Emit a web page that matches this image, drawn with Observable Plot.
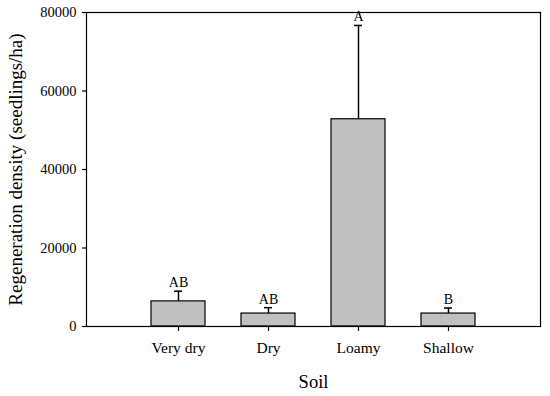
<!DOCTYPE html>
<html>
<head>
<meta charset="utf-8">
<script src="https://cdn.jsdelivr.net/npm/d3@7"></script>
<script src="https://cdn.jsdelivr.net/npm/@observablehq/plot@0.6"></script>
<style>
  html, body { margin: 0; padding: 0; background: #fff; }
  #chart svg { display: block; }
  #chart svg, #chart svg g, #chart svg text {
    font-family: 'Liberation Serif', serif !important;
  }
</style>
</head>
<body>
<div id="chart"></div>
<script>
// Data
const soils = ["Very dry", "Dry", "Loamy", "Shallow"];
const means = [6400, 3300, 52800, 3300];
const upper = [9000, 4800, 76700, 4700];
const letters = ["AB", "AB", "A", "B"];
const yTicks = [0, 20000, 40000, 60000, 80000];

const data = soils.map((s, i) => ({soil: s, mean: means[i], upper: upper[i], letter: letters[i]}));

const FONT = "'Liberation Serif', serif";

const chart = Plot.plot({
  width: 550,
  height: 396,
  marginLeft: 86,
  marginRight: 10,
  marginTop: 12,
  marginBottom: 70,
  style: {fontFamily: FONT, background: "#fff", color: "#000"},
  x: {domain: soils, paddingInner: 0.4, paddingOuter: 0.7, label: null},
  y: {domain: [0, 80000], label: null},
  marks: [
    Plot.barY(data, {x: "soil", y: "mean", fill: "#c0c0c0", stroke: "#000", strokeWidth: 1.2}),
    Plot.ruleX(data, {x: "soil", y1: "mean", y2: "upper", stroke: "#000", strokeWidth: 1.5}),
    Plot.tickY(data, {x: "soil", y: "upper", insetLeft: 23, insetRight: 23, stroke: "#000", strokeWidth: 1.5}),
    Plot.text(data, {x: "soil", y: "upper", text: "letter", lineAnchor: "bottom", dy: -4, fontSize: 14, fontFamily: FONT, fill: "#000"}),
    Plot.frame({stroke: "#000", strokeWidth: 1.2}),
    Plot.axisY({ticks: yTicks, tickFormat: d => String(d), tickSize: 4, tickPadding: 6, fontSize: 14.5, fontFamily: FONT, label: null, stroke: "#000", strokeWidth: 1.2}),
    Plot.axisX({tickSize: 5, tickPadding: 10, fontSize: 15.5, fontFamily: FONT, label: null, stroke: "#000", strokeWidth: 1.2}),
    Plot.text(["Soil"], {text: d => d, frameAnchor: "bottom", lineAnchor: "middle", textAnchor: "middle", dy: 56, fontSize: 18.5, fontFamily: FONT, fill: "#000"}),
    Plot.text(["Regeneration density (seedlings/ha)"], {text: d => d, frameAnchor: "left", textAnchor: "middle", lineAnchor: "middle", rotate: -90, dx: -71, fontSize: 19, fontFamily: FONT, fill: "#000"})
  ]
});
document.getElementById("chart").appendChild(chart);
</script>
</body>
</html>
